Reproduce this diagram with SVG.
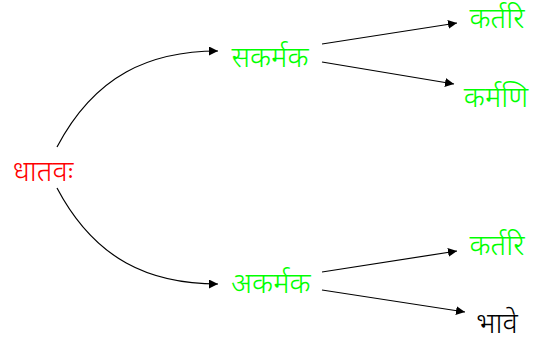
<svg xmlns="http://www.w3.org/2000/svg" width="533" height="337" viewBox="0 0 533 337">
<style>
text{font-family:"Noto Sans Devanagari","Noto Sans","Lohit Devanagari",sans-serif;font-size:29px;font-weight:300;text-anchor:middle}
.red{fill:#ff0000}
.green{fill:#00ff00}
.black{fill:#000000}
.edge{fill:none;stroke:#000;stroke-width:1.2}
</style>
<defs>
<marker id="arr" viewBox="0 0 10 10" refX="10" refY="5" markerWidth="9" markerHeight="9" markerUnits="userSpaceOnUse" orient="auto">
<path d="M0,0 L10,5 L0,10 z" fill="#000"/>
</marker>
</defs>
<rect width="533" height="337" fill="#fff"/>
<g id="connectors">
<path class="edge" d="M57,147 C95,75 150,51 218,51" marker-end="url(#arr)"/>
<path class="edge" d="M57,188 C95,260 150,284 218,284" marker-end="url(#arr)"/>
<path class="edge" d="M322,44 L457,23" marker-end="url(#arr)"/>
<path class="edge" d="M322,62 L454,84" marker-end="url(#arr)"/>
<path class="edge" d="M322,272 L457,251" marker-end="url(#arr)"/>
<path class="edge" d="M322,290 L465,312" marker-end="url(#arr)"/>
</g>
<g id="n-dhatavah"><text class="red" x="43" y="181">धातवः</text></g>
<g id="n-sakarmaka"><text class="green" x="270" y="67">सकर्मक</text></g>
<g id="n-akarmaka"><text class="green" x="271" y="293">अकर्मक</text></g>
<g id="n-kartari1"><text class="green" x="497" y="28">कर्तरि</text></g>
<g id="n-karmani"><text class="green" x="496" y="107">कर्मणि</text></g>
<g id="n-kartari2"><text class="green" x="497" y="255">कर्तरि</text></g>
<g id="n-bhave"><text class="black" x="497" y="333">भावे</text></g>
</svg>
